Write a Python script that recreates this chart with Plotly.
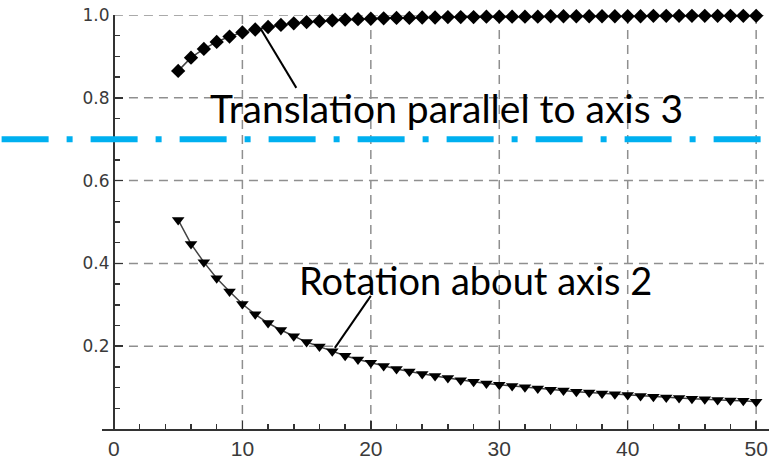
import plotly.graph_objects as go

# ---------------- data ----------------
x_vals = list(range(5, 51))

translation_axis3 = [
    0.865, 0.897, 0.918, 0.935, 0.948, 0.958, 0.965, 0.971, 0.976, 0.980,
    0.983, 0.985, 0.987, 0.989, 0.990, 0.991, 0.992, 0.993, 0.993, 0.994,
    0.994, 0.995, 0.995, 0.995, 0.996, 0.996, 0.996, 0.996, 0.996, 0.997,
    0.997, 0.997, 0.997, 0.997, 0.997, 0.997, 0.997, 0.998, 0.998, 0.998,
    0.998, 0.998, 0.998, 0.998, 0.998, 0.998,
]

rotation_axis2 = [
    0.505, 0.447, 0.403, 0.364, 0.332, 0.302, 0.277, 0.256, 0.239, 0.224,
    0.210, 0.199, 0.188, 0.177, 0.168, 0.160, 0.152, 0.145, 0.139, 0.133,
    0.128, 0.123, 0.118, 0.114, 0.110, 0.107, 0.104, 0.101, 0.098, 0.095,
    0.093, 0.090, 0.088, 0.086, 0.084, 0.082, 0.080, 0.078, 0.076, 0.075,
    0.073, 0.072, 0.070, 0.069, 0.068, 0.066,
]

x_ticks = [0, 10, 20, 30, 40, 50]
x_tick_labels = ["0", "10", "20", "30", "40", "50"]
y_ticks = [0.2, 0.4, 0.6, 0.8, 1.0]
y_tick_labels = ["0.2", "0.4", "0.6", "0.8", "1.0"]

label_translation = "Translation parallel to axis 3"
label_rotation = "Rotation about axis 2"
threshold = 0.7

# ---------------- layout constants ----------------
x_range = [-0.93, 51.0]
y_range = [0.0, 1.0]
grid_x_end = 50.6
y_axis_pos = (0 - x_range[0]) / (x_range[1] - x_range[0])

fig = go.Figure()

fig.add_trace(go.Scatter(
    x=x_vals, y=translation_axis3, mode="lines+markers",
    line=dict(color="#444444", width=1.5),
    marker=dict(symbol="diamond", size=11, color="black"),
    cliponaxis=False, showlegend=False, hoverinfo="skip",
))
fig.add_trace(go.Scatter(
    x=x_vals, y=rotation_axis2, mode="lines+markers",
    line=dict(color="#444444", width=1.5),
    marker=dict(symbol="triangle-down", size=11, color="black"),
    cliponaxis=False, showlegend=False, hoverinfo="skip",
))

shapes = []
grid_style = dict(color="#8f8f8f", width=1.5, dash="9px,6px")
for yv in y_ticks:
    shapes.append(dict(type="line", xref="x", yref="y", x0=0, x1=grid_x_end,
                       y0=yv, y1=yv, line=grid_style, layer="below"))
for xv in x_ticks[1:]:
    shapes.append(dict(type="line", xref="x", yref="y", x0=xv, x1=xv,
                       y0=0, y1=y_range[1], line=grid_style, layer="below"))

# leader lines
shapes.append(dict(type="line", xref="x", yref="y", x0=11.4, y0=0.968,
                   x1=14.2, y1=0.824, line=dict(color="black", width=2)))
shapes.append(dict(type="line", xref="x", yref="y", x0=20.0, y0=0.3215,
                   x1=17.2, y1=0.196, line=dict(color="black", width=2)))

# dash-dot threshold line across the whole picture
shapes.append(dict(type="line", xref="paper", yref="y", x0=-0.1505, x1=1.01,
                   y0=threshold, y1=threshold,
                   line=dict(color="#00B0F0", width=6, dash="47px,18px,6px,18px"),
                   layer="above"))

annotations = [
    dict(x=7.3, y=0.775, xref="x", yref="y", text=label_translation,
         showarrow=False, xanchor="left", yanchor="middle",
         font=dict(family="Lato", size=39, color="black")),
    dict(x=14.25, y=0.36, xref="x", yref="y", text=label_rotation,
         showarrow=False, xanchor="left", yanchor="middle",
         font=dict(family="Lato", size=38, color="black")),
]

fig.update_layout(
    width=771, height=464,
    margin=dict(l=102, r=2, t=15, b=35, pad=0),
    paper_bgcolor="white", plot_bgcolor="white",
    shapes=shapes, annotations=annotations,
    hovermode=False,
    xaxis=dict(
        range=x_range, showgrid=False, zeroline=False,
        showline=True, linecolor="#333333", linewidth=2,
        tickmode="array", tickvals=x_ticks, ticktext=x_tick_labels,
        ticks="inside", ticklen=8, tickwidth=1.5, tickcolor="#333333",
        minor=dict(ticks="inside", ticklen=5, tickwidth=1.5, tickcolor="#333333",
                   tickmode="linear", tick0=0, dtick=2, showgrid=False),
        tickfont=dict(family="Liberation Sans", size=21, color="#3a3a3a"),
    ),
    yaxis=dict(
        range=y_range, showgrid=False, zeroline=False,
        anchor="free", position=y_axis_pos,
        showline=True, linecolor="#333333", linewidth=2,
        tickmode="array", tickvals=y_ticks, ticktext=y_tick_labels,
        ticks="inside", ticklen=8, tickwidth=1.5, tickcolor="#333333",
        minor=dict(ticks="inside", ticklen=5, tickwidth=1.5, tickcolor="#333333",
                   tickmode="linear", tick0=0, dtick=0.05, showgrid=False),
        tickfont=dict(family="DejaVu Sans", size=17, color="#3a3a3a"),
    ),
)

fig.write_html(
    "out.html",
    config={"displayModeBar": False, "staticPlot": True},
    post_script="document.body.style.margin='0';document.body.style.overflow='hidden';",
)
